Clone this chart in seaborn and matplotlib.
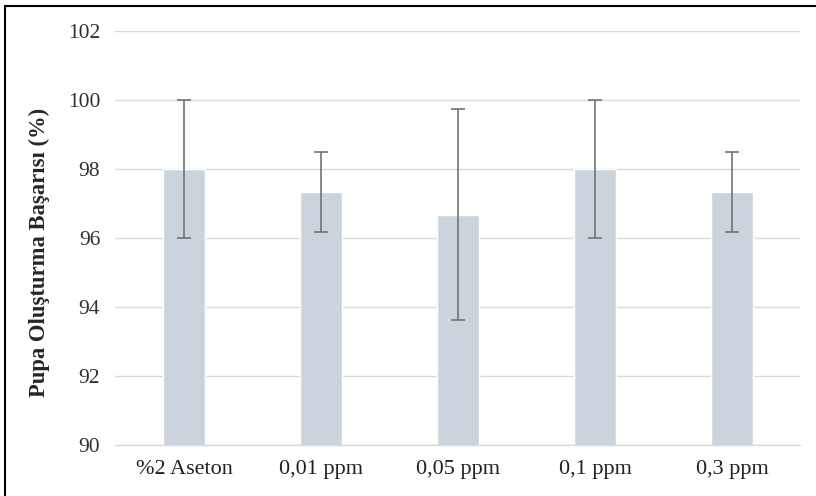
import matplotlib
matplotlib.use("Agg")
import matplotlib.pyplot as plt
import seaborn as sns
import pandas as pd
from matplotlib.lines import Line2D

groups = ["%2 Aseton", "0,01 ppm", "0,05 ppm", "0,1 ppm", "0,3 ppm"]
means = [98.0, 97.33, 96.67, 98.0, 97.33]
errors = [2.0, 1.16, 3.06, 2.0, 1.16]

df = pd.DataFrame({"grup": groups, "basari": means})

sns.set_style("white")
fig = plt.figure(figsize=(8.16, 4.96), dpi=100)
ax = fig.add_axes([0.1415, 0.1028, 0.8395, 0.8347])

sns.barplot(data=df, x="grup", y="basari", color="#CBD3DD", saturation=1,
            width=0.31, ax=ax, zorder=2)
ax.errorbar(range(len(groups)), means, yerr=errors, fmt="none",
            ecolor="#737373", elinewidth=1.2, capsize=5, capthick=1.2, zorder=3)

ax.set_ylim(90, 102)
ax.set_yticks(range(90, 103, 2))
ax.set_xlim(-0.5, len(groups) - 0.5)
ax.yaxis.grid(True, color="#D9D9D9", linewidth=1, zorder=0)
ax.set_axisbelow(True)
for s in ["top", "right", "left"]:
    ax.spines[s].set_visible(False)
ax.spines["bottom"].set_color("#D9D9D9")
ax.spines["bottom"].set_linewidth(1)
ax.tick_params(axis="y", length=0, pad=11)
ax.tick_params(axis="x", length=0, pad=11)

for lab in ax.get_yticklabels():
    lab.set_fontfamily("Liberation Serif")
    lab.set_fontsize(15.5)
    lab.set_color("#303030")
for lab in ax.get_xticklabels():
    lab.set_fontfamily("Liberation Serif")
    lab.set_fontsize(16)
    lab.set_color("#202020")

ax.set_xlabel("")
ax.set_ylabel("Pupa Oluşturma Başarısı (%)", fontfamily="Liberation Serif",
              fontsize=16.3, fontweight="bold")
ax.yaxis.set_label_coords(-0.096, 0.466)

# outer frame (top and left edges visible)
fig.add_artist(Line2D([5 / 816, 1], [1 - 6 / 496, 1 - 6 / 496],
                      transform=fig.transFigure, color="black", linewidth=1.5))
fig.add_artist(Line2D([5 / 816, 5 / 816], [0, 1 - 6 / 496],
                      transform=fig.transFigure, color="black", linewidth=1.5))

fig.savefig("out.png", dpi=100)
